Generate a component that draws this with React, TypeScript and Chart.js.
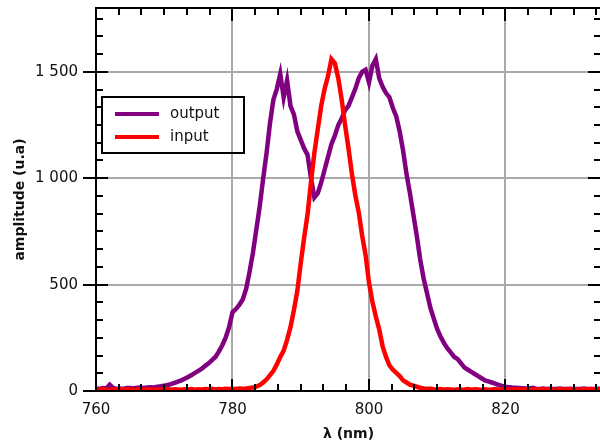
import React, { useEffect, useRef } from "react";
import { Chart, registerables } from "chart.js";

Chart.register(...registerables);

// Wavelength sampling of the spectra (nm)
const lambdaStart = 760;
const lambdaStep = 0.5;

// output spectrum, 760 → 834 nm, every 0.5 nm
const outputValues = [
  12, 10, 14, 12, 30, 15, 10, 12, 10, 14,
  14, 12, 15, 16, 14, 17, 18, 17, 20, 22,
  25, 28, 32, 38, 44, 50, 58, 66, 75, 85,
  95, 105, 118, 130, 145, 160, 185, 215, 250, 300,
  370, 385, 405, 430, 480, 560, 650, 760, 870, 1000,
  1120, 1260, 1370, 1420, 1490, 1380, 1460, 1340, 1300, 1220,
  1180, 1140, 1110, 1000, 910, 930, 980, 1040, 1100, 1160,
  1200, 1250, 1280, 1320, 1340, 1380, 1420, 1470, 1500, 1510,
  1450, 1530, 1560, 1470, 1430, 1400, 1380, 1330, 1290, 1220,
  1130, 1020, 930, 830, 730, 620, 530, 460, 390, 340,
  290, 255, 225, 200, 180, 160, 150, 130, 110, 100,
  90, 80, 70, 60, 50, 45, 40, 35, 28, 24,
  20, 18, 16, 15, 14, 13, 12, 12, 15, 11,
  10, 12, 10, 11, 10, 9, 12, 10, 9, 11,
  10, 9, 10, 12, 10, 9, 10, 11, 10,
];

// input spectrum, 760 → 834 nm, every 0.5 nm
const inputValues = [
  8, 6, 9, 7, 5, 8, 6, 7, 9, 6,
  8, 5, 7, 9, 6, 8, 7, 5, 8, 6,
  7, 9, 6, 8, 7, 6, 8, 7, 9, 6,
  8, 7, 9, 8, 10, 7, 9, 8, 10, 9,
  11, 10, 12, 11, 12, 14, 16, 20, 28, 40,
  55, 75, 95, 125, 160, 190, 240, 300, 380, 470,
  600, 720, 830, 980, 1120, 1230, 1340, 1420, 1480, 1560,
  1540, 1470, 1370, 1250, 1140, 1020, 920, 840, 730, 640,
  510, 420, 350, 290, 210, 160, 120, 100, 85, 70,
  50, 40, 30, 25, 20, 15, 12, 10, 10, 8,
  7, 9, 6, 8, 7, 5, 8, 6, 7, 9,
  6, 8, 7, 5, 8, 6, 7, 9, 6, 8,
  7, 6, 8, 7, 9, 6, 8, 7, 6, 8,
  7, 9, 6, 8, 7, 6, 8, 7, 9, 6,
  8, 7, 6, 8, 7, 9, 6, 8, 7,
];

const seriesNames = ["output", "input"];
const seriesColors = ["#800080", "#ff0000"];

const xMin = 760;
const xMax = 834;
const xMajorTicks = [760, 780, 800, 820];
const xMinorStep = 20 / 6;
const yMin = 0;
const yMax = 1800;
const yMajorTicks = [0, 500, 1000, 1500];
const yMinorStep = 500 / 6;

const xTitle = "λ (nm)";
const yTitle = "amplitude (u.a)";

const toPoints = (vals: number[]) =>
  vals.map((v, i) => ({ x: lambdaStart + i * lambdaStep, y: v }));

const fmt = (v: number) =>
  String(v).replace(/\B(?=(\d{3})+(?!\d))/g, " ");

const FONT = "'DejaVu Sans', sans-serif";

const framePlugin = {
  id: "frame",
  afterDraw(chart: any) {
    const { ctx, chartArea } = chart;
    const { left, right, top, bottom } = chartArea;
    const xs = chart.scales.x;
    const ys = chart.scales.y;
    ctx.save();
    ctx.strokeStyle = "#000";
    ctx.lineWidth = 2;
    ctx.lineCap = "butt";
    ctx.beginPath();
    for (let v = xMin; v <= xMax + 1e-6; v += xMinorStep) {
      const px = Math.round(xs.getPixelForValue(v));
      ctx.moveTo(px, bottom);
      ctx.lineTo(px, bottom - 7);
      ctx.moveTo(px, top);
      ctx.lineTo(px, top + 7);
    }
    for (const v of xMajorTicks) {
      const px = Math.round(xs.getPixelForValue(v));
      ctx.moveTo(px, bottom);
      ctx.lineTo(px, bottom - 12);
      ctx.moveTo(px, top);
      ctx.lineTo(px, top + 13);
    }
    for (let v = yMin; v <= yMax + 1e-6; v += yMinorStep) {
      const py = Math.round(ys.getPixelForValue(v));
      ctx.moveTo(left, py);
      ctx.lineTo(left + 7, py);
      ctx.moveTo(right, py);
      ctx.lineTo(right - 7, py);
    }
    for (const v of yMajorTicks) {
      const py = Math.round(ys.getPixelForValue(v));
      ctx.moveTo(left - 13, py);
      ctx.lineTo(left + 12, py);
      ctx.moveTo(right, py);
      ctx.lineTo(right - 13, py);
    }
    ctx.stroke();
    ctx.strokeRect(left, top, right - left, bottom - top);

    // legend
    const bx = left + 6;
    const by = top + 89;
    ctx.strokeRect(bx, by, 142, 56);
    ctx.font = `15px ${FONT}`;
    ctx.textBaseline = "middle";
    ctx.textAlign = "left";
    seriesNames.forEach((name, i) => {
      const ly = by + 17 + i * 23;
      ctx.strokeStyle = seriesColors[i];
      ctx.lineWidth = 4;
      ctx.beginPath();
      ctx.moveTo(bx + 13, ly);
      ctx.lineTo(bx + 57, ly);
      ctx.stroke();
      ctx.fillStyle = "#111";
      ctx.fillText(name, bx + 68, ly);
    });
    ctx.restore();
  },
};

export default function App() {
  const ref = useRef<HTMLCanvasElement>(null);
  useEffect(() => {
    document.body.style.margin = "0";
    const canvas = ref.current!;
    const chart = new Chart(canvas, {
      type: "line",
      data: {
        datasets: [
          {
            label: seriesNames[0],
            data: toPoints(outputValues),
            borderColor: seriesColors[0],
            borderWidth: 4.5,
            pointRadius: 0,
            order: 1,
          },
          {
            label: seriesNames[1],
            data: toPoints(inputValues),
            borderColor: seriesColors[1],
            borderWidth: 4.5,
            pointRadius: 0,
            order: 0,
          },
        ],
      },
      options: {
        animation: false,
        responsive: false,
        events: [],
        layout: { padding: { top: 8, right: 9, left: 0, bottom: 0 } },
        plugins: { legend: { display: false }, tooltip: { enabled: false } },
        scales: {
          x: {
            type: "linear",
            min: xMin,
            max: xMax,
            afterFit: (s: any) => {
              s.height = 55;
              s.paddingLeft = 0;
              s.paddingRight = 0;
            },
            afterBuildTicks: (s: any) => {
              s.ticks = xMajorTicks.map((v) => ({ value: v }));
            },
            ticks: {
              autoSkip: false,
              maxRotation: 0,
              padding: 10,
              color: "#111",
              font: { family: FONT, size: 15 },
            },
            grid: { color: "#aaaaaa", lineWidth: 2, drawTicks: false },
            border: { display: false },
            title: {
              display: true,
              text: xTitle,
              color: "#111",
              font: { family: FONT, size: 14, weight: "bold" },
              padding: { top: 0, bottom: 3 },
            },
          },
          y: {
            type: "linear",
            min: yMin,
            max: yMax,
            afterFit: (s: any) => {
              s.width = 96;
              s.paddingTop = 0;
              s.paddingBottom = 0;
            },
            afterBuildTicks: (s: any) => {
              s.ticks = yMajorTicks.map((v) => ({ value: v }));
            },
            ticks: {
              autoSkip: false,
              padding: 18,
              color: "#111",
              font: { family: FONT, size: 15 },
              callback: (v: any) => fmt(Number(v)),
            },
            grid: { color: "#aaaaaa", lineWidth: 2, drawTicks: false },
            border: { display: false },
            title: {
              display: true,
              text: yTitle,
              color: "#111",
              font: { family: FONT, size: 14, weight: "bold" },
              padding: { top: 12, bottom: 0 },
            },
          },
        },
      },
      plugins: [framePlugin],
    });
    return () => chart.destroy();
  }, []);
  return (
    <div style={{ width: 600, height: 446, overflow: "hidden", position: "relative", background: "#fff" }}>
      <canvas ref={ref} width={610} height={446} style={{ width: 610, height: 446, display: "block" }} />
    </div>
  );
}
